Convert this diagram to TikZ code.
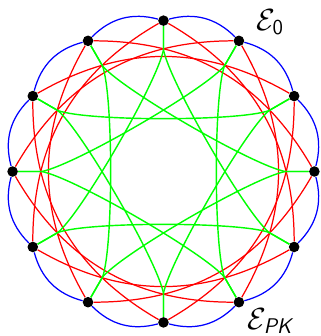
\documentclass[tikz,border=0pt]{standalone}
\usepackage{amsmath}
\usepackage{amssymb}
\usetikzlibrary{positioning}

\begin{document}
\begin{tikzpicture}[
  x=1cm,y=1cm,
  dot/.style={circle, fill=black, inner sep=0pt, minimum size=2.1mm},
  cyc/.style={blue, line width=0.7pt, bend right=30},
  pkout/.style={red, line width=0.7pt, bend right=30},
  pkin/.style={green, line width=0.8pt, bend left=19, looseness=0.4},
  lab/.style={font=\LARGE, inner sep=0pt}
]
\useasboundingbox (-3.25,-3.27) rectangle (3.13,3.41);

% vertices
\node[dot] (v0) at (90:3) {};
\node[dot] (v1) at (120:3) {};
\node[dot] (v2) at (150:3) {};
\node[dot] (v3) at (180:3) {};
\node[dot] (v4) at (210:3) {};
\node[dot] (v5) at (240:3) {};
\node[dot] (v6) at (270:3) {};
\node[dot] (v7) at (300:3) {};
\node[dot] (v8) at (330:3) {};
\node[dot] (v9) at (0:3) {};
\node[dot] (v10) at (30:3) {};
\node[dot] (v11) at (60:3) {};

% inner ends of the green spokes
\foreach \i in {0,...,11}
  \coordinate (q\i) at (90+30*\i:2.42);

% outer cycle
\foreach \i in {0,...,11} {
  \pgfmathtruncatemacro{\j}{mod(\i+1,12)}
  \draw[cyc] (v\i) to (v\j);
}

% long edges, bent out
\foreach \i in {0,...,11} {
  \pgfmathtruncatemacro{\j}{mod(\i+4,12)}
  \draw[pkout] (v\i) to (v\j);
}

% long edges, spoke in and bent in
\foreach \i in {0,...,11} {
  \pgfmathtruncatemacro{\j}{mod(\i+4,12)}
  \draw[pkin] (v\i) -- (q\i) to (q\j) -- (v\j);
}

% labels
\node[lab] (e0) at (2.12,2.97) {$\mathcal{E}_{\textsf{0}}$};
\node[lab] (epk) at (2.14,-2.97) {$\mathcal{E}_{\textsf{\textit{PK}}}$};

\end{tikzpicture}
\end{document}
